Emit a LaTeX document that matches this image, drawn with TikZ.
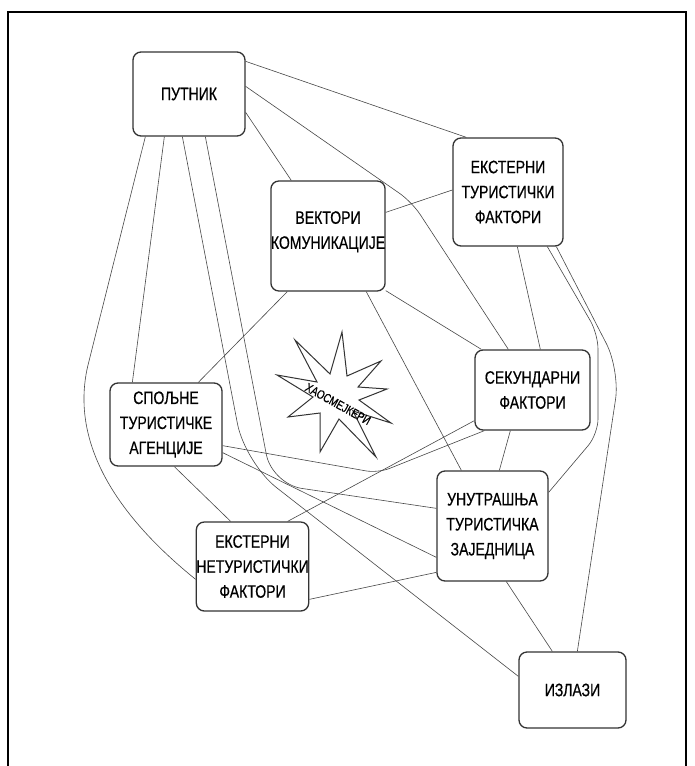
\documentclass[tikz,border=0pt]{standalone}
\usepackage{fontspec}
\setmainfont[FakeStretch=0.78]{Liberation Sans}
\newfontfamily\boxfont[FakeStretch=0.78,FakeBold=0.5]{Liberation Sans}
\usetikzlibrary{calc}
\begin{document}
\begin{tikzpicture}[x=1pt,y=-1pt,
  box/.style={draw=black!80, line width=1.3pt, rounded corners=8pt, fill=white,
    align=center, inner sep=0pt, font=\boxfont\fontsize{18}{25}\selectfont},
  link/.style={draw=black!72, line width=0.6pt},
  starline/.style={draw=black!80, line width=1pt, line join=miter},
]
\useasboundingbox (0,0) rectangle (694,766);
\fill[white] (0,0) rectangle (694,766);
\draw[line width=2pt] (8,766) -- (8,12) -- (686,12) -- (686,766);

% nodes
\node[box, minimum width=112pt, minimum height=84pt]  (put) at (189,94)    {ПУТНИК};
\node[box, minimum width=110pt, minimum height=108pt] (et)  at (508,192)   {ЕКСТЕРНИ\\ТУРИСТИЧКИ\\ФАКТОРИ};
\node[box, minimum width=110pt, minimum height=110pt] (vek) at (328,236)   {ВЕКТОРИ\\КОМУНИКАЦИЈЕ\rule[-12pt]{0pt}{0pt}};
\node[box, minimum width=115pt, minimum height=80pt]  (sek) at (532.5,390) {СЕКУНДАРНИ\\ФАКТОРИ};
\node[box, minimum width=112pt, minimum height=83pt]  (spo) at (166,424.5) {СПОЉНЕ\\ТУРИСТИЧКЕ\\АГЕНЦИЈЕ};
\node[box, minimum width=111pt, minimum height=110pt] (un)  at (492.5,526) {УНУТРАШЊА\\ТУРИСТИЧКА\\ЗАЈЕДНИЦА};
\node[box, minimum width=111pt, minimum height=89pt]  (ent) at (252.5,566.5) {ЕКСТЕРНИ\\НЕТУРИСТИЧКИ\\ФАКТОРИ};
\node[box, minimum width=107pt, minimum height=76pt]  (izl) at (572.5,690) {ИЗЛАЗИ};

% connectors from ПУТНИК
\draw[link] ($(put.north east)+(0,10)$) -- ($(et.north west)+(14,0)$);
\draw[link, rounded corners=15pt] ($(put.north east)+(0,35)$) -- (412,202) -- ($(sek.north west)+(34,0)$);
\draw[link] ($(put.north east)+(0,61)$) -- ($(vek.north west)+(21,0)$);
\draw[link] ($(put.south west)+(13,0)$) -- (88,365) .. controls (76,415) and (85,490) .. ($(ent.north west)+(0,58)$);
\draw[link] ($(put.south west)+(32,0)$) -- ($(spo.north west)+(23,0)$);
\draw[link, rounded corners=40pt] ($(put.south west)+(50,0)$) -- (245,463) -- ($(izl.north west)+(0,25)$);
\draw[link, rounded corners=30pt] ($(put.south west)+(73,0)$) -- (272,484) -- ($(un.north west)+(0,38)$);

% from ЕКСТЕРНИ ТУРИСТИЧКИ ФАКТОРИ
\draw[link] ($(et.west)+(0,-2)$) -- ($(vek.north east)+(0,32)$);
\draw[link] ($(et.south west)+(65,0)$) -- ($(sek.north west)+(66,0)$);
\draw[link, rounded corners=15pt] ($(et.south west)+(95,0)$) -- (598,334) -- (598,434) -- ($(un.north east)+(0,22)$);
\draw[link, rounded corners=30pt] ($(et.south west)+(104,0)$) -- (620,370) -- ($(izl.north west)+(59,0)$);

% from ВЕКТОРИ КОМУНИКАЦИЈЕ
\draw[link] ($(vek.south west)+(17,0)$) -- ($(spo.north west)+(89,0)$);
\draw[link] ($(vek.south west)+(96,0)$) -- ($(un.north west)+(25,0)$);
\draw[link] ($(vek.south east)+(0,-1)$) -- ($(sek.north west)+(7,0)$);

% from СЕКУНДАРНИ ФАКТОРИ
\draw[link] ($(sek.south west)+(36,0)$) -- ($(un.north west)+(63,0)$);
\draw[link, rounded corners=12pt] ($(sek.south west)+(10,0)$) -- (378,473) -- ($(spo.south east)+(0,-21)$);
\draw[link] ($(sek.south west)+(0,-10)$) -- ($(ent.north west)+(92,0)$);

% from СПОЉНЕ ТУРИСТИЧКЕ АГЕНЦИЈЕ
\draw[link] ($(spo.south east)+(0,-14)$) -- ($(un.north west)+(0,87)$);
\draw[link] ($(spo.south west)+(65,0)$) -- ($(ent.north west)+(35,0)$);

% others
\draw[link] ($(ent.north east)+(0,78)$) -- ($(un.north west)+(0,102)$);
\draw[link] ($(un.south west)+(70,0)$) -- ($(izl.north west)+(34,0)$);

% chaos star
\draw[starline] (342,332) -- (347,376) -- (381,361) -- (358,387) -- (387,389) -- (359,400)
  -- (391,423) -- (353,411) -- (376,457) -- (339,419) -- (320,452) -- (320,413)
  -- (288,417) -- (313,397) -- (277,375) -- (317,382) -- (295,340) -- (330,374) -- cycle;
\node[rotate=-29, inner sep=0pt, font=\boxfont\fontsize{12.5}{13}\selectfont] (chaos) at (338,404) {ХАОСМЕЈКЕРИ};
\end{tikzpicture}
\end{document}
